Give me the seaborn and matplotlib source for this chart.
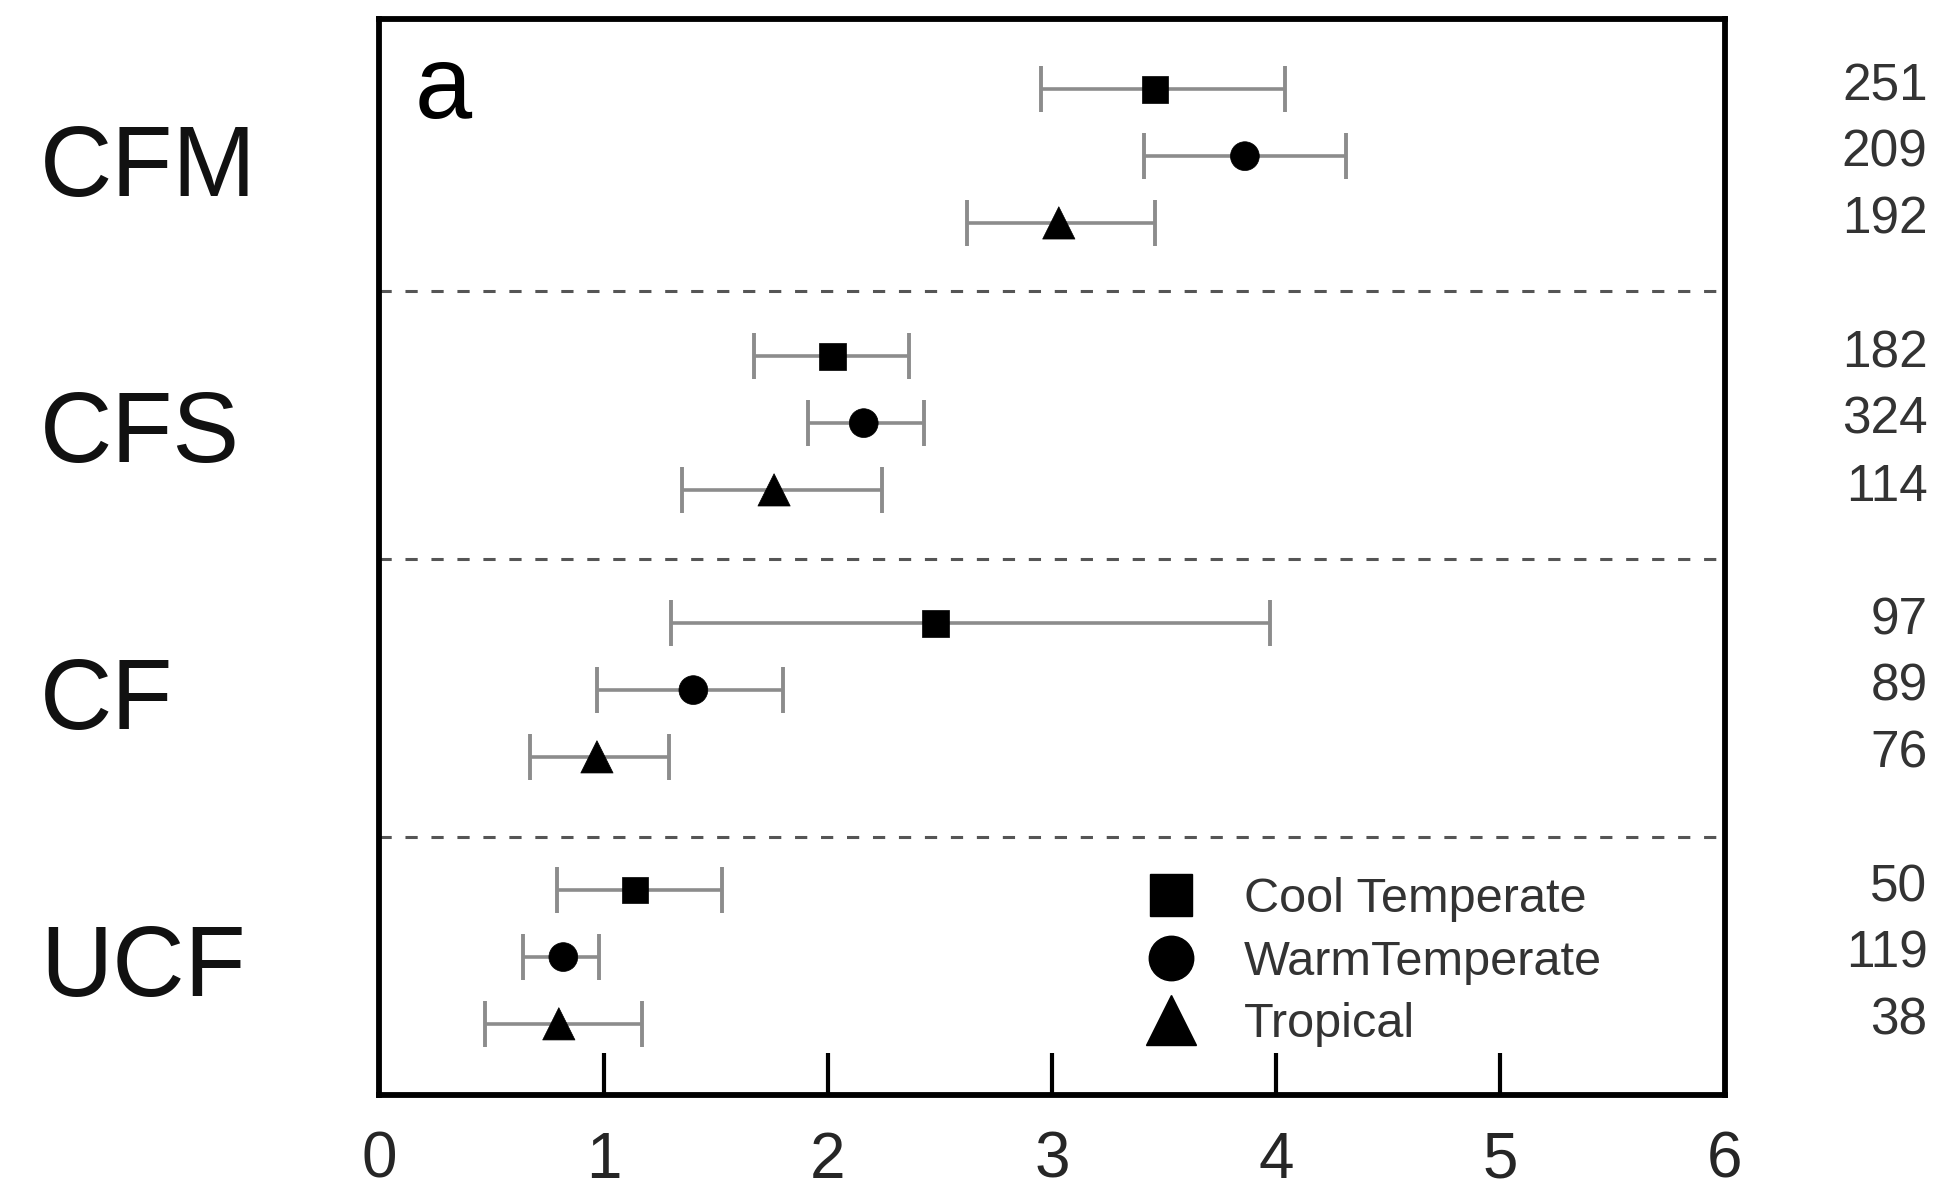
import matplotlib
matplotlib.use("Agg")
import matplotlib.pyplot as plt
from matplotlib import font_manager
from matplotlib.lines import Line2D
import seaborn as sns
import pandas as pd
import numpy as np

# ---------------- data ----------------
groups = ["CFM", "CFS", "CF", "UCF"]
climates = ["Cool Temperate", "WarmTemperate", "Tropical"]

cool_mean = [3.46, 2.02, 2.48, 1.14]
cool_lo   = [2.95, 1.67, 1.30, 0.79]
cool_hi   = [4.04, 2.36, 3.97, 1.53]
cool_n    = [251, 182, 97, 50]

warm_mean = [3.86, 2.16, 1.40, 0.82]
warm_lo   = [3.41, 1.91, 0.97, 0.64]
warm_hi   = [4.31, 2.43, 1.80, 0.98]
warm_n    = [209, 324, 89, 119]

trop_mean = [3.03, 1.76, 0.97, 0.80]
trop_lo   = [2.62, 1.35, 0.67, 0.47]
trop_hi   = [3.46, 2.24, 1.29, 1.17]
trop_n    = [192, 114, 76, 38]

xticks = [0, 1, 2, 3, 4, 5, 6]
separators = [4.02, 8.03, 12.2]
panel_label = "a"

# ---------------- table ----------------
rows = []
for gi, g in enumerate(groups):
    for ci, (c, m, lo, hi, n) in enumerate(zip(
            climates,
            [cool_mean[gi], warm_mean[gi], trop_mean[gi]],
            [cool_lo[gi], warm_lo[gi], trop_lo[gi]],
            [cool_hi[gi], warm_hi[gi], trop_hi[gi]],
            [cool_n[gi], warm_n[gi], trop_n[gi]])):
        rows.append(dict(group=g, climate=c, mean=m, lo=lo, hi=hi, n=n,
                         y=4 * gi + ci + 1))
df = pd.DataFrame(rows)

# ---------------- style ----------------
sns.set_theme(style="white")
plt.rcParams["font.family"] = ["Liberation Sans", "DejaVu Sans"]

def has_font(name):
    try:
        font_manager.findfont(font_manager.FontProperties(family=name),
                              fallback_to_default=False)
        return True
    except Exception:
        return False

tick_family = ["Liberation Sans Narrow"] if has_font("Liberation Sans Narrow") else ["Liberation Sans"]

fig = plt.figure(figsize=(19.51, 12.04), dpi=100)
ax = fig.add_axes([0.1945, 0.0909, 0.884 - 0.1945, 0.9845 - 0.0909])

# error bars
ax.errorbar(df["mean"], df["y"],
            xerr=[df["mean"] - df["lo"], df["hi"] - df["mean"]],
            fmt="none", ecolor="#8c8c8c", elinewidth=2.6,
            capsize=16.5, capthick=2.8, zorder=2)

# markers
sns.scatterplot(data=df, x="mean", y="y", style="climate", size="climate",
                markers={"Cool Temperate": "s", "WarmTemperate": "o", "Tropical": "^"},
                sizes={"Cool Temperate": 360, "WarmTemperate": 430, "Tropical": 540},
                color="black", edgecolor="black", linewidth=0.5,
                legend=False, ax=ax, zorder=3)

# separators
for s in separators:
    ax.axhline(s, color="#555555", lw=2.2, linestyle=(0, (4.0, 4.5)), zorder=1)

ax.set_xlim(0, 6)
ax.set_ylim(16.06, -0.06)
ax.set_xticks(xticks)
ax.set_xticklabels([str(t) for t in xticks], fontsize=46, family=tick_family)
ax.set_yticks([])
ax.set_xlabel("")
ax.set_ylabel("")
ax.tick_params(axis="x", direction="in", length=30, width=3, color="black",
               pad=26, bottom=True)
for sp in ax.spines.values():
    sp.set_visible(True)
    sp.set_color("black")
    sp.set_linewidth(4.2)

# panel label
ax.text(0.026, 0.9077, panel_label, transform=ax.transAxes, fontsize=74,
        ha="left", va="baseline", color="black")

# group labels on the left
trans_left = matplotlib.transforms.blended_transform_factory(fig.transFigure, ax.transData)
for gi, g in enumerate(groups):
    ax.text(0.0205, 4 * gi + 2.2, g, transform=trans_left, fontsize=72,
            ha="left", va="center", color="#111111", clip_on=False)

# sample sizes on the right
for _, r in df.iterrows():
    ax.text(0.988, r["y"] - 0.04, str(r["n"]), transform=trans_left, fontsize=37,
            ha="right", va="center", color="#333333", clip_on=False)

# legend
handles = [
    Line2D([], [], marker="s", color="black", linestyle="none", markersize=30),
    Line2D([], [], marker="o", color="black", linestyle="none", markersize=32),
    Line2D([], [], marker="^", color="black", linestyle="none", markersize=36),
]
leg = ax.legend(handles, climates, loc="center left", bbox_to_anchor=(0.5706, 0.123),
                frameon=False, fontsize=35, handlelength=1.0, handletextpad=1.0,
                borderpad=0, borderaxespad=0, labelspacing=0.36)
for t in leg.get_texts():
    t.set_color("#333333")

fig.savefig("out.png", dpi=100)
